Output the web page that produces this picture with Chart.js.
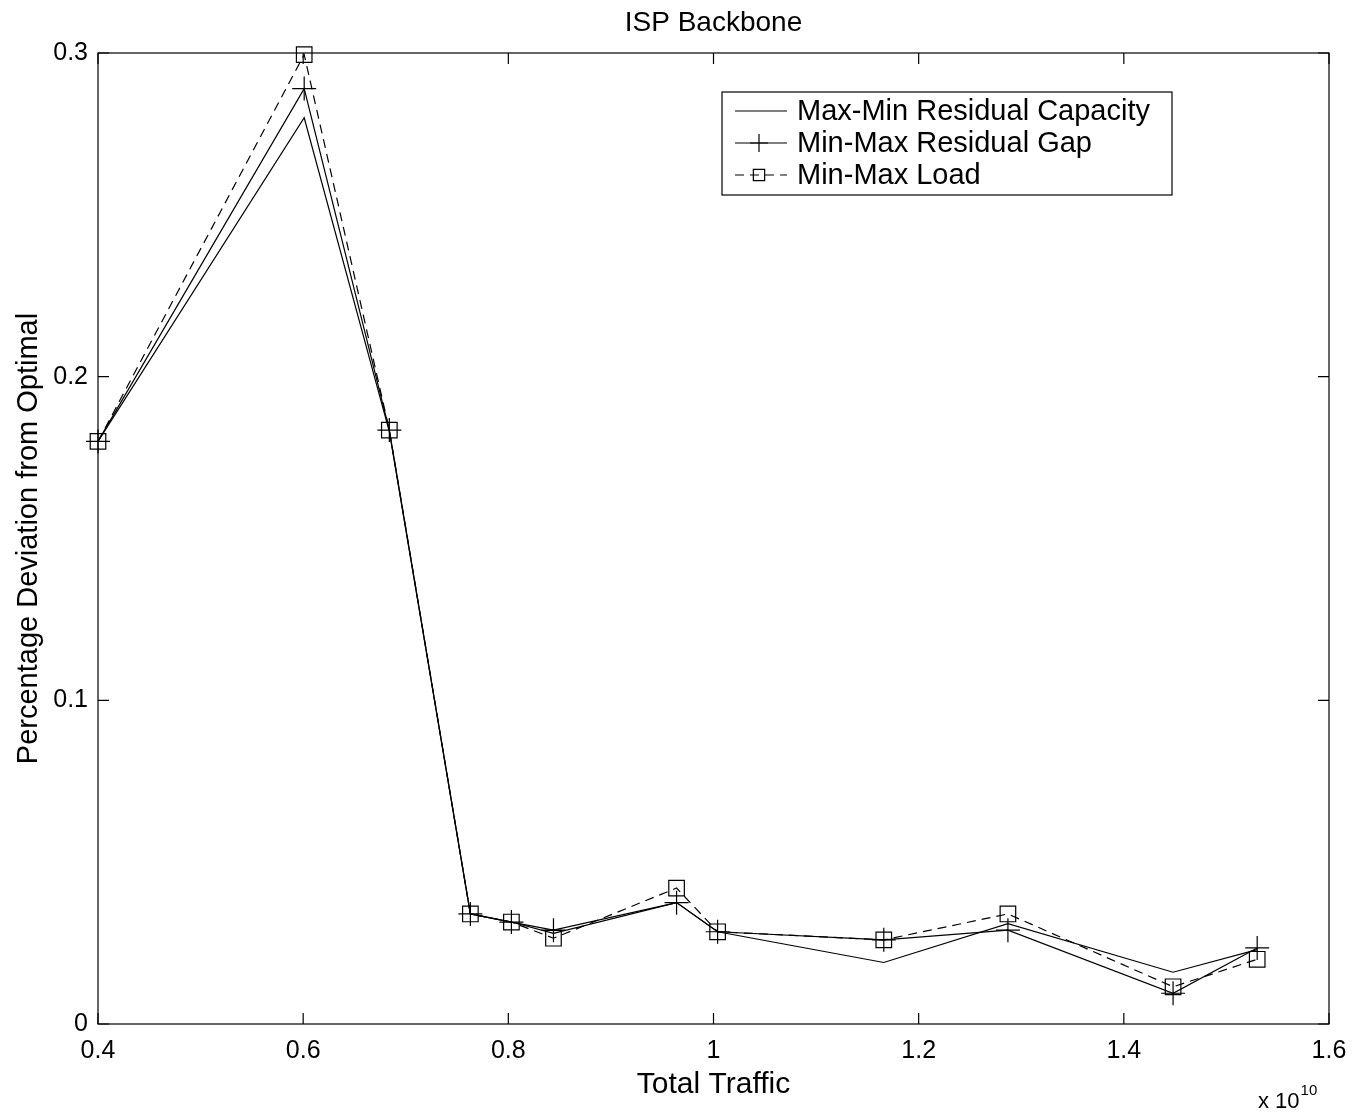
<!DOCTYPE html>
<html>
<head>
<meta charset="utf-8">
<script src="https://cdn.jsdelivr.net/npm/chart.js@4"></script>
<style>
    body { margin: 0; background: #fff; }
    #wrap { width: 1353px; height: 1113px; }
</style>
</head>
<body>
<div id="wrap"><canvas id="ispChart" width="1353" height="1113"></canvas></div>
<script>
// Datos
const traffic = [0.4, 0.601, 0.684, 0.763, 0.803, 0.844, 0.964, 1.004, 1.166, 1.287, 1.448, 1.530];
const maxMinCapacity = [0.180, 0.280, 0.183, 0.034, 0.0315, 0.028, 0.0375, 0.0285, 0.019, 0.031, 0.016, 0.023];
const minMaxGap = [0.180, 0.289, 0.1835, 0.034, 0.0315, 0.029, 0.0375, 0.0285, 0.026, 0.029, 0.0095, 0.0235];
const minMaxLoad = [0.180, 0.2995, 0.1835, 0.034, 0.0315, 0.0265, 0.042, 0.0285, 0.026, 0.034, 0.0115, 0.020];
const xTicks = [0.4, 0.6, 0.8, 1.0, 1.2, 1.4, 1.6];
const yTicks = [0, 0.1, 0.2, 0.3];
const seriesNames = ['Max-Min Residual Capacity', 'Min-Max Residual Gap', 'Min-Max Load'];

const FONT = 'Liberation Sans, Arial, sans-serif';

function toPoints(ys) {
    return traffic.map((x, i) => ({ x: x, y: ys[i] }));
}

// Título, marco, marcas internas, leyenda y exponente
const framePlugin = {
    id: 'frame',
    afterDraw(chart) {
        const ctx = chart.ctx;
        const a = chart.chartArea;
        const xs = chart.scales.x;
        const ys = chart.scales.y;
        ctx.save();

        ctx.fillStyle = '#000';
        ctx.font = '28px ' + FONT;
        ctx.textAlign = 'center';
        ctx.textBaseline = 'middle';
        ctx.fillText('ISP Backbone', (a.left + a.right) / 2, 23);

        ctx.strokeStyle = '#000';
        ctx.lineWidth = 1.2;
        ctx.strokeRect(a.left, a.top, a.right - a.left, a.bottom - a.top);

        ctx.beginPath();
        xTicks.forEach(v => {
            const px = xs.getPixelForValue(v);
            ctx.moveTo(px, a.bottom); ctx.lineTo(px, a.bottom - 11);
            ctx.moveTo(px, a.top); ctx.lineTo(px, a.top + 11);
        });
        yTicks.forEach(v => {
            const py = ys.getPixelForValue(v);
            ctx.moveTo(a.left, py); ctx.lineTo(a.left + 11, py);
            ctx.moveTo(a.right, py); ctx.lineTo(a.right - 11, py);
        });
        ctx.stroke();

        // Leyenda
        const lx = 722, ly = 92, lw = 450, lh = 103;
        const legendRadius = [0, 9, 8];
        ctx.fillStyle = '#fff';
        ctx.fillRect(lx, ly, lw, lh);
        ctx.lineWidth = 1.2;
        ctx.strokeRect(lx, ly, lw, lh);
        ctx.textAlign = 'left';
        seriesNames.forEach((name, i) => {
            const ds = chart.data.datasets[i];
            const cy = ly + 19 + i * 32;
            ctx.strokeStyle = '#000';
            ctx.lineWidth = 1.2;
            ctx.setLineDash(ds.borderDash || []);
            ctx.beginPath();
            ctx.moveTo(lx + 13, cy); ctx.lineTo(lx + 65, cy);
            ctx.stroke();
            ctx.setLineDash([]);
            if (legendRadius[i] > 0) {
                ctx.fillStyle = 'rgba(0,0,0,0)';
                Chart.helpers.drawPoint(ctx, {
                    pointStyle: ds.pointStyle,
                    radius: legendRadius[i],
                    borderWidth: 1.2
                }, lx + 37, cy);
            }
            ctx.fillStyle = '#000';
            ctx.font = '29px ' + FONT;
            ctx.fillText(name, lx + 75, cy + 1);
        });

        // Exponente del eje x
        ctx.textBaseline = 'alphabetic';
        ctx.font = '22px ' + FONT;
        ctx.fillText('x 10', 1258, 1108);
        const w = ctx.measureText('x 10').width;
        ctx.font = '15px ' + FONT;
        ctx.fillText('10', 1258 + w + 1, 1095);
        ctx.restore();
    }
};

const ctx = document.getElementById('ispChart');
new Chart(ctx, {
    type: 'line',
    data: {
        datasets: [
            {
                label: seriesNames[0],
                data: toPoints(maxMinCapacity),
                borderColor: '#000',
                borderWidth: 1.2,
                pointRadius: 0,
                tension: 0
            },
            {
                label: seriesNames[1],
                data: toPoints(minMaxGap),
                borderColor: '#000',
                borderWidth: 1.2,
                pointStyle: 'cross',
                pointRadius: 12,
                pointBorderColor: '#000',
                pointBorderWidth: 1.2,
                tension: 0
            },
            {
                label: seriesNames[2],
                data: toPoints(minMaxLoad),
                borderColor: '#000',
                borderWidth: 1.2,
                borderDash: [9, 6],
                pointStyle: 'rect',
                pointRadius: 11,
                pointBackgroundColor: 'rgba(0,0,0,0)',
                pointBorderColor: '#000',
                pointBorderWidth: 1.2,
                tension: 0
            }
        ]
    },
    options: {
        responsive: false,
        animation: false,
        clip: false,
        layout: { padding: { left: 0, right: 24, top: 53, bottom: 0 } },
        plugins: {
            legend: { display: false },
            tooltip: { enabled: false },
            title: { display: false }
        },
        scales: {
            x: {
                type: 'linear',
                min: 0.4,
                max: 1.6,
                afterBuildTicks(scale) {
                    scale.ticks = xTicks.map(v => ({ value: v }));
                },
                afterFit(scale) {
                    scale.height = 89;
                    scale.paddingLeft = 0;
                    scale.paddingRight = 0;
                },
                grid: { display: false, drawTicks: false },
                border: { display: false },
                ticks: {
                    color: '#000',
                    padding: 12,
                    maxRotation: 0,
                    font: { family: FONT, size: 25 },
                    callback: v => String(Number(v.toFixed(1)))
                },
                title: {
                    display: true,
                    text: 'Total Traffic',
                    color: '#000',
                    font: { family: FONT, size: 30 },
                    padding: { top: 0, bottom: 10 }
                }
            },
            y: {
                type: 'linear',
                min: 0,
                max: 0.3,
                afterBuildTicks(scale) {
                    scale.ticks = yTicks.map(v => ({ value: v }));
                },
                afterFit(scale) {
                    scale.width = 98;
                    scale.paddingTop = 0;
                    scale.paddingBottom = 0;
                },
                grid: { display: false, drawTicks: false },
                border: { display: false },
                ticks: {
                    color: '#000',
                    padding: 10,
                    font: { family: FONT, size: 25 },
                    callback: v => String(Number(v.toFixed(1)))
                },
                title: {
                    display: true,
                    text: 'Percentage Deviation from Optimal',
                    color: '#000',
                    font: { family: FONT, size: 29 },
                    padding: { top: 12, bottom: 0 }
                }
            }
        }
    },
    plugins: [framePlugin]
});
</script>
</body>
</html>
